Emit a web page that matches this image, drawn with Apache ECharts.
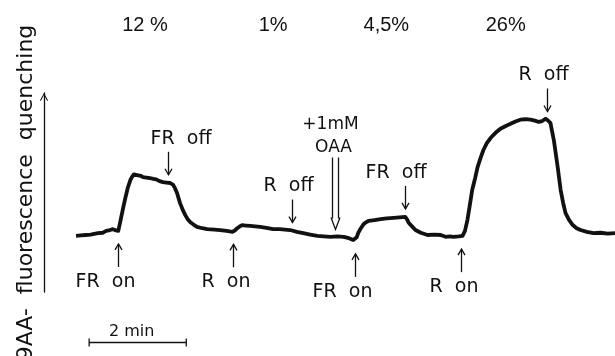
<!DOCTYPE html>
<html>
<head>
<meta charset="utf-8">
<script src="https://cdn.jsdelivr.net/npm/echarts@6/dist/echarts.min.js"></script>
<style>
  html, body { margin: 0; padding: 0; background: #ffffff; }
  #chart { width: 615px; height: 356px; }
</style>
</head>
<body>
<div id="chart"></div>
<script>
// 9-aminoacridine fluorescence quenching trace: time (min) and quenching (%)
const traceTime = [
  0.00, 0.10, 0.20, 0.30, 0.35, 0.45, 0.55, 0.62, 0.70, 0.76, 0.82, 0.87,
  0.92, 0.97, 1.02, 1.07, 1.12, 1.15, 1.19, 1.22, 1.28, 1.33, 1.38, 1.45,
  1.52, 1.59, 1.65, 1.72, 1.79, 1.86, 1.94, 2.00, 2.04, 2.08, 2.14, 2.20,
  2.25, 2.30, 2.35, 2.42, 2.49, 2.60, 2.70, 2.85, 2.97, 3.10, 3.22, 3.27,
  3.32, 3.37, 3.42, 3.50, 3.59, 3.69, 3.79, 3.92, 4.06, 4.20, 4.30, 4.41,
  4.55, 4.68, 4.82, 4.97, 5.10, 5.24, 5.38, 5.51, 5.62, 5.71, 5.75, 5.78,
  5.81, 5.86, 5.92, 5.97, 6.02, 6.15, 6.27, 6.40, 6.54, 6.66, 6.78, 6.82,
  6.85, 6.92, 6.99, 7.10, 7.24, 7.38, 7.51, 7.61, 7.70, 7.77, 7.88, 7.96,
  8.01, 8.06, 8.11, 8.16, 8.22, 8.27, 8.33, 8.39, 8.46, 8.54, 8.64, 8.74,
  8.85, 8.95, 9.05, 9.15, 9.26, 9.36, 9.45, 9.53, 9.60, 9.67, 9.72, 9.77,
  9.84, 9.92, 9.98, 10.03, 10.08, 10.15, 10.23, 10.31, 10.39, 10.52, 10.66, 10.80,
  10.95, 11.10
];
const traceQuench = [
  0.4, 0.5, 0.6, 0.7, 0.8, 1.0, 1.1, 1.5, 1.7, 1.9, 1.6, 1.5,
  4.0, 6.6, 9.0, 11.2, 12.8, 13.4, 14.0, 14.1, 13.8, 13.7, 13.4, 13.3,
  13.2, 13.0, 12.9, 12.5, 12.3, 12.2, 12.1, 11.7, 10.9, 9.9, 7.7, 6.1,
  5.0, 4.1, 3.5, 2.9, 2.4, 2.1, 1.9, 1.8, 1.7, 1.5, 1.3, 1.6,
  2.1, 2.5, 2.8, 2.7, 2.6, 2.5, 2.4, 2.2, 1.9, 1.9, 1.8, 1.7,
  1.3, 1.0, 0.7, 0.4, 0.3, 0.2, 0.3, 0.2, -0.1, -0.5, -0.7, 0.1,
  1.0, 2.0, 3.0, 3.4, 3.7, 3.9, 4.1, 4.3, 4.4, 4.5, 4.6, 4.0,
  3.3, 2.5, 1.7, 1.1, 0.6, 0.7, 0.6, 0.2, 0.3, 0.2, 0.3, 0.4,
  1.5, 3.9, 7.2, 10.6, 13.2, 15.6, 17.6, 19.4, 20.9, 22.1, 23.2, 24.1,
  24.7, 25.2, 25.7, 26.1, 26.2, 26.1, 25.9, 25.6, 25.8, 26.3, 25.9, 25.4,
  21.6, 15.6, 10.6, 7.8, 5.5, 4.0, 2.8, 2.1, 1.7, 1.3, 1.0, 1.1,
  0.9, 1.0
];

// Light switching events (min)
const eventTimes  = [0.87, 1.90, 3.24, 4.45, 5.75, 6.78, 7.92, 9.69];
const eventLabels = ['FR  on', 'FR  off', 'R  on', 'R  off', 'FR  on', 'FR  off', 'R  on', 'R  off'];
const eventSides  = ['below', 'above', 'below', 'above', 'below', 'above', 'below', 'above'];

// Addition of oxaloacetate (min)
const additionTimes  = [5.34];
const additionLabels = ['+1mM', 'OAA'];

// Steady-state quenching under each light regime
const regimeTimes  = [1.42, 4.06, 6.39, 8.85];
const regimeLabels = ['12 %', '1%', '4,5%', '26%'];

// Time scale bar
const scaleBarStart  = [0.27];
const scaleBarLength = [2];
const scaleBarLabel  = ['2 min'];

const T_MIN = -0.66;
const T_MAX = 11.1;
const Y_MIN = -12;
const Y_MAX = 32;
const INK = '#111111';
const LABEL_FONT = '19px "DejaVu Sans", sans-serif';
// the first "FR off" caption sits further right, clear of the rising edge
const CAPTION_NUDGE = { 1: 22 };

// Quenching level on the trace at time t (linear between samples)
function traceLevelAt(t) {
  for (let i = 1; i < traceTime.length; i++) {
    if (t <= traceTime[i]) {
      const f = (t - traceTime[i - 1]) / (traceTime[i] - traceTime[i - 1]);
      return traceQuench[i - 1] + f * (traceQuench[i] - traceQuench[i - 1]);
    }
  }
  return traceQuench[traceQuench.length - 1];
}

const inkLine = { stroke: INK, lineWidth: 1.3, fill: null };

function arrowShape(x, tipY, tailY) {
  const dir = tailY > tipY ? 1 : -1;
  return [
    { type: 'line', shape: { x1: x, y1: tailY, x2: x, y2: tipY }, style: inkLine },
    { type: 'polyline', shape: { points: [[x - 3.5, tipY + dir * 6], [x, tipY], [x + 3.5, tipY + dir * 6]] }, style: inkLine }
  ];
}

function renderEvent(params, api) {
  const i = params.dataIndex;
  const p = api.coord([api.value(0), api.value(1)]);
  const x = Math.round(p[0]) + 0.5;
  const below = eventSides[i] === 'below';
  const tipY = below ? p[1] + 13 : p[1] - 8;
  const tailY = below ? tipY + 23 : tipY - 23;
  const textY = below ? tailY + 15 : tailY - 13;
  const shift = (below ? 17 : 21) + (CAPTION_NUDGE[i] || 0);
  return {
    type: 'group',
    children: arrowShape(x, tipY, tailY).concat([{
      type: 'text',
      style: { text: eventLabels[i], x: x + shift, y: textY, align: 'right', verticalAlign: 'middle', font: LABEL_FONT, fill: INK }
    }])
  };
}

function renderAddition(params, api) {
  const p = api.coord([api.value(0), api.value(1)]);
  const x = Math.round(p[0]) + 0.5;
  const tipY = p[1] - 7;
  const topY = tipY - 72;
  return {
    type: 'group',
    children: [
      { type: 'line', shape: { x1: x - 3, y1: topY, x2: x - 3, y2: tipY - 11 }, style: inkLine },
      { type: 'line', shape: { x1: x + 3, y1: topY, x2: x + 3, y2: tipY - 11 }, style: inkLine },
      { type: 'polyline', shape: { points: [[x - 4.5, tipY - 12], [x, tipY], [x + 4.5, tipY - 12]] }, style: inkLine },
      { type: 'text', style: { text: additionLabels[1], x: x - 2, y: tipY - 82, align: 'center', verticalAlign: 'middle', font: '17px "DejaVu Sans", sans-serif', fill: INK } },
      { type: 'text', style: { text: additionLabels[0], x: x - 5, y: tipY - 105, align: 'center', verticalAlign: 'middle', font: '17px "DejaVu Sans", sans-serif', fill: INK } }
    ]
  };
}

function renderRegime(params, api) {
  const p = api.coord([api.value(0), Y_MAX]);
  return {
    type: 'text',
    style: { text: regimeLabels[params.dataIndex], x: p[0], y: p[1] - 68, align: 'center', verticalAlign: 'middle', font: '20px "Liberation Sans", sans-serif', fill: INK }
  };
}

function renderScaleBar(params, api) {
  const a = api.coord([api.value(0), Y_MIN]);
  const b = api.coord([api.value(0) + scaleBarLength[0], Y_MIN]);
  const y = Math.round(a[1] + 50) + 0.5;
  return {
    type: 'group',
    children: [
      { type: 'line', shape: { x1: a[0], y1: y, x2: b[0], y2: y }, style: inkLine },
      { type: 'line', shape: { x1: a[0], y1: y - 4, x2: a[0], y2: y + 4 }, style: inkLine },
      { type: 'line', shape: { x1: b[0], y1: y - 4, x2: b[0], y2: y + 4 }, style: inkLine },
      { type: 'text', style: { text: scaleBarLabel[0], x: (a[0] + b[0]) / 2 - 6, y: y - 11, align: 'center', verticalAlign: 'middle', font: '16px "DejaVu Sans", sans-serif', fill: INK } }
    ]
  };
}

const chart = echarts.init(document.getElementById('chart'), null, { renderer: 'canvas' });
chart.setOption({
  animation: false,
  backgroundColor: '#ffffff',
  grid: { left: 44, right: 0, top: 93, bottom: 64, outerBoundsMode: 'none', containLabel: false },
  xAxis: { type: 'value', min: T_MIN, max: T_MAX, show: false },
  yAxis: {
    type: 'value', min: Y_MIN, max: Y_MAX,
    splitLine: { show: false }, axisTick: { show: false }, axisLabel: { show: false },
    axisLine: {
      show: true,
      onZero: false,
      lineStyle: { color: INK, width: 1.3 },
      symbol: ['none', 'path://M5,0 L10,9 L9,10 L5,2.4 L1,10 L0,9 Z'],
      symbolSize: [8, 9],
      symbolOffset: [0, -4]
    },
    name: '9AA-  fluorescence  quenching',
    nameLocation: 'middle',
    nameGap: 7,
    nameRotate: 90,
    nameTextStyle: { color: INK, fontSize: 22, fontFamily: '"DejaVu Sans", sans-serif' }
  },
  series: [
    {
      type: 'line',
      data: traceTime.map((t, i) => [t, traceQuench[i]]),
      showSymbol: false,
      smooth: false,
      clip: false,
      lineStyle: { color: INK, width: 3.8, join: 'round' }
    },
    { type: 'custom', data: eventTimes.map(t => [t, traceLevelAt(t)]), renderItem: renderEvent, clip: false },
    { type: 'custom', data: additionTimes.map(t => [t, traceLevelAt(t)]), renderItem: renderAddition, clip: false },
    { type: 'custom', data: regimeTimes.map(t => [t, Y_MAX]), renderItem: renderRegime, clip: false },
    { type: 'custom', data: scaleBarStart.map(t => [t, Y_MIN]), renderItem: renderScaleBar, clip: false }
  ]
});
</script>
</body>
</html>
